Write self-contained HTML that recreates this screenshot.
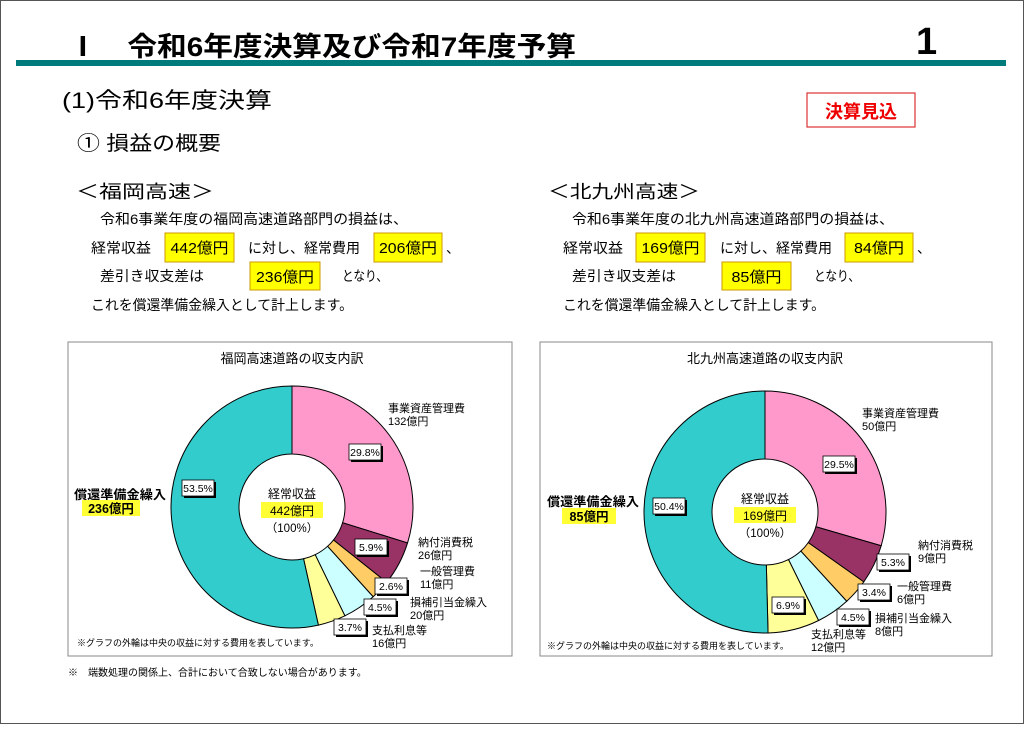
<!DOCTYPE html>
<html><head><meta charset="utf-8">
<style>
body{margin:0;background:#fff;}
svg text{font-family:"Liberation Sans","Noto Sans CJK JP",sans-serif;}
</style></head>
<body>
<svg id="page" width="1024" height="724" viewBox="0 0 1024 724" xmlns="http://www.w3.org/2000/svg">
<rect x="0.5" y="0.5" width="1023" height="723" fill="#fff" stroke="#555" stroke-width="1"/>
<text x="68" y="56" font-size="27" font-weight="bold" textLength="508" lengthAdjust="spacingAndGlyphs">Ⅰ　令和6年度決算及び令和7年度予算</text>
<text x="916" y="54" font-size="38" font-weight="bold">1</text>
<rect x="16" y="60" width="990" height="6" fill="#007B7B"/>
<text x="62" y="108" font-size="22" textLength="210" lengthAdjust="spacingAndGlyphs">(1)令和6年度決算</text>
<rect x="807" y="93" width="108" height="34" fill="#fff" stroke="#d33" stroke-width="1.2"/>
<text x="861" y="118" font-size="18" fill="#e00" text-anchor="middle" font-weight="bold">決算見込</text>
<text x="77" y="150" font-size="20" textLength="144" lengthAdjust="spacingAndGlyphs">① 損益の概要</text>

<g>
<text x="76" y="198" font-size="18" textLength="138" lengthAdjust="spacingAndGlyphs">＜福岡高速＞</text>
<text x="100" y="224" font-size="14" textLength="308" lengthAdjust="spacingAndGlyphs">令和6事業年度の福岡高速道路部門の損益は、</text>
<text x="91" y="253" font-size="14" textLength="60" lengthAdjust="spacingAndGlyphs">経常収益</text>
<rect x="165" y="233" width="69" height="29" fill="#ff0" stroke="#c90"/>
<text x="199.5" y="253" font-size="15" text-anchor="middle" textLength="58" lengthAdjust="spacingAndGlyphs">442億円</text>
<text x="248" y="253" font-size="14" textLength="112" lengthAdjust="spacingAndGlyphs">に対し、経常費用</text>
<rect x="374" y="233" width="68" height="29" fill="#ff0" stroke="#c90"/>
<text x="408" y="253" font-size="15" text-anchor="middle" textLength="58" lengthAdjust="spacingAndGlyphs">206億円</text>
<text x="446" y="253" font-size="14">、</text>
<text x="100" y="281" font-size="14" textLength="104" lengthAdjust="spacingAndGlyphs">差引き収支差は</text>
<rect x="250" y="262" width="70" height="28" fill="#ff0" stroke="#c90"/>
<text x="285" y="282" font-size="15" text-anchor="middle" textLength="58" lengthAdjust="spacingAndGlyphs">236億円</text>
<text x="342" y="281" font-size="14" textLength="46" lengthAdjust="spacingAndGlyphs">となり、</text>
<text x="91" y="310" font-size="14" textLength="262" lengthAdjust="spacingAndGlyphs">これを償還準備金繰入として計上します。</text>
</g>

<g>
<text x="548" y="198" font-size="18" textLength="152" lengthAdjust="spacingAndGlyphs">＜北九州高速＞</text>
<text x="572" y="224" font-size="14" textLength="322" lengthAdjust="spacingAndGlyphs">令和6事業年度の北九州高速道路部門の損益は、</text>
<text x="563" y="253" font-size="14" textLength="60" lengthAdjust="spacingAndGlyphs">経常収益</text>
<rect x="636" y="233" width="69" height="29" fill="#ff0" stroke="#c90"/>
<text x="670.5" y="253" font-size="15" text-anchor="middle" textLength="58" lengthAdjust="spacingAndGlyphs">169億円</text>
<text x="720" y="253" font-size="14" textLength="112" lengthAdjust="spacingAndGlyphs">に対し、経常費用</text>
<rect x="845" y="233" width="68" height="29" fill="#ff0" stroke="#c90"/>
<text x="879" y="253" font-size="15" text-anchor="middle" textLength="50" lengthAdjust="spacingAndGlyphs">84億円</text>
<text x="917" y="253" font-size="14">、</text>
<text x="572" y="281" font-size="14" textLength="104" lengthAdjust="spacingAndGlyphs">差引き収支差は</text>
<rect x="722" y="262" width="69" height="28" fill="#ff0" stroke="#c90"/>
<text x="756.5" y="282" font-size="15" text-anchor="middle" textLength="50" lengthAdjust="spacingAndGlyphs">85億円</text>
<text x="814" y="281" font-size="14" textLength="46" lengthAdjust="spacingAndGlyphs">となり、</text>
<text x="563" y="310" font-size="14" textLength="262" lengthAdjust="spacingAndGlyphs">これを償還準備金繰入として計上します。</text>
</g>

<rect x="68" y="342" width="444" height="314" fill="#fff" stroke="#888"/>
<rect x="540" y="342" width="452" height="314" fill="#fff" stroke="#888"/>
<g id="charts"></g>
<text x="68" y="676" font-size="10">※　端数処理の関係上、合計において合致しない場合があります。</text>
</svg>
<script>
const categories = ["事業資産管理費","納付消費税","一般管理費","損補引当金繰入","支払利息等","償還準備金繰入"];
const fukuokaPct = [29.8, 5.9, 2.6, 4.5, 3.7, 53.5];
const fukuokaAmt = ["132億円","26億円","11億円","20億円","16億円","236億円"];
const kitaPct = [29.5, 5.3, 3.4, 4.5, 6.9, 50.4];
const kitaAmt = ["50億円","9億円","6億円","8億円","12億円","85億円"];
const colors = ["#FF99CC","#993366","#FFCC66","#CCFFFF","#FFFF99","#33CCCC"];
const NS = "http://www.w3.org/2000/svg";
const root = document.getElementById('charts');
function mk(tag, attrs, parent){const e=document.createElementNS(NS,tag);for(const k in attrs)e.setAttribute(k,attrs[k]);(parent||root).appendChild(e);return e;}
function txt(x,y,s,size,parent,extra){const t=mk('text',Object.assign({x:x,y:y,'font-size':size},extra||{}),parent);t.textContent=s;return t;}

function drawChart(cfg){
  const g=mk('g',{});
  
  
  const t=txt(cfg.cx,363,cfg.title,13,g,{'text-anchor':'middle'});
  
  
  const total=cfg.pct.reduce((a,b)=>a+b,0);
  let a0=0;
  cfg.pct.forEach((v,i)=>{
    const a1=a0+v/total*2*Math.PI;
    const R=cfg.r,r=cfg.ri,cx=cfg.cx,cy=cfg.cy;
    const p=(ang,rad)=>[cx+rad*Math.sin(ang),cy-rad*Math.cos(ang)];
    const [x1,y1]=p(a0,R),[x2,y2]=p(a1,R),[x3,y3]=p(a1,r),[x4,y4]=p(a0,r);
    const lg=(a1-a0)>Math.PI?1:0;
    const path=mk('path',{d:`M${x1},${y1}A${R},${R} 0 ${lg} 1 ${x2},${y2}L${x3},${y3}A${r},${r} 0 ${lg} 0 ${x4},${y4}Z`,fill:colors[i],stroke:'#000','stroke-width':1},g);
    
    
    a0=a1;
  });
  cfg.pct.forEach((v,i)=>{
    const [bx,by]=cfg.boxes[i];
    const lb=mk('g',{},g);
    
    
    mk('rect',{x:bx-15+2,y:by-8+2,width:32,height:16,fill:'#000'},lb);
    mk('rect',{x:bx-15,y:by-8,width:32,height:16,fill:'#fff',stroke:'#000','stroke-width':0.8},lb);
    txt(bx+1,by+4,v.toFixed(1)+'%',10.5,lb,{'text-anchor':'middle'});
  });
  cfg.labels.forEach((L,i)=>{
    const lg=mk('g',{},g);
    
    
    if(i===5){
      txt(L[0],L[1],categories[i],12.5,lg,{'font-weight':'bold',textLength:92,lengthAdjust:'spacingAndGlyphs'});
      mk('rect',{x:L[2],y:L[3],width:L[4],height:16,fill:'#ff3'},lg);
      txt(L[2]+L[4]/2,L[3]+13,cfg.amt[i],12.5,lg,{'font-weight':'bold','text-anchor':'middle'});
    } else {
      txt(L[0],L[1],categories[i],11,lg);
      txt(L[0],L[1]+13,cfg.amt[i],11,lg);
    }
  });
  const c=mk('g',{},g);
  
  
  txt(cfg.cx,cfg.cy-9,'経常収益',12,c,{'text-anchor':'middle'});
  mk('rect',{x:cfg.cx-31,y:cfg.cy-5,width:62,height:16,fill:'#ff3'},c);
  txt(cfg.cx,cfg.cy+8,cfg.total,12,c,{'text-anchor':'middle'});
  txt(cfg.cx,cfg.cy+25,'（100%）',11.5,c,{'text-anchor':'middle'});
  const n=txt(cfg.noteX,cfg.noteY,'※グラフの外輪は中央の収益に対する費用を表しています。',9,g);
  
  
}

drawChart({name:'fukuoka-donut-chart',title:'福岡高速道路の収支内訳',cx:292,cy:507,r:121,ri:53,
  pct:fukuokaPct,amt:fukuokaAmt,total:'442億円',noteX:77,noteY:646,
  boxes:[[364,452],[370,547],[390,586],[379,607],[349,627],[197,488]],
  labels:[[388,412],[418,546],[420,575],[410,606],[372,634],[74,499,82,500,58]]});
drawChart({name:'kitakyushu-donut-chart',title:'北九州高速道路の収支内訳',cx:765,cy:512,r:121,ri:53,
  pct:kitaPct,amt:kitaAmt,total:'169億円',noteX:547,noteY:649,
  boxes:[[838,464],[892,562],[873,592],[852,617],[787,605],[668,506]],
  labels:[[862,417],[918,549],[897,590],[875,622],[811,638],[547,506,562,508,54]]});
</script>
</body></html>
